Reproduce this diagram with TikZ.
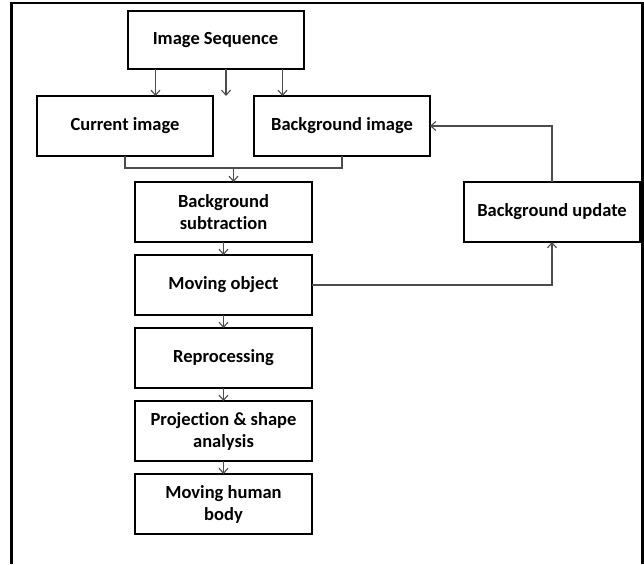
\documentclass[tikz,border=0pt]{standalone}
\usepackage{fontspec}
\setmainfont{Carlito}[Ligatures=NoCommon]
\usetikzlibrary{arrows.meta, positioning, calc}

\begin{document}
\begin{tikzpicture}[
  x=1pt, y=-1pt,
  blk/.style={draw, line width=2pt, minimum width=176pt, minimum height=60pt, align=center, inner sep=2pt, outer sep=0pt, font=\fontsize{18.5}{22}\selectfont\bfseries},
  arr/.style={draw=black!70, line width=1.1pt, -{Straight Barb[length=5pt, width=9pt]}},
  lin/.style={draw=black!70, line width=1.1pt},
  frm/.style={draw, line width=2.4pt}
]
  \useasboundingbox (0,0) rectangle (644,564);
  \draw[frm] (11.5,564) -- (11.5,3) -- (642.5,3) -- (642.5,564);

  \node[blk, minimum height=58pt] (seq) at (215.5,40) {Image Sequence};
  \node[blk] (cur) at (125,126) {Current image};
  \node[blk, right=41pt of cur] (bgimg) {Background image};
  \node[blk, minimum width=177pt] (sub) at (223.5,212) {Background\\subtraction};
  \node[blk, minimum width=177pt, below=13pt of sub] (mov) {Moving object};
  \node[blk, minimum width=177pt, below=13pt of mov] (rep) {Reprocessing};
  \node[blk, minimum width=177pt, below=13pt of rep] (proj) {Projection \& shape\\analysis};
  \node[blk, minimum width=177pt, below=13pt of proj] (body) {Moving human\\body};
  \node[blk, right=152pt of sub] (upd) {Background update};

  \coordinate (gap) at ([xshift=10.5pt]seq.south |- cur.north);
  \draw[arr] ([xshift=-60pt]seq.south) -- ([xshift=-60pt]seq.south |- cur.north);
  \draw[arr] ([xshift=10.5pt]seq.south) -- (gap);
  \draw[arr] ([xshift=67pt]seq.south) -- ([xshift=67pt]seq.south |- bgimg.north);

  \draw[lin] (cur.south) -- ++(0,12) -| (bgimg.south);
  \coordinate (merge) at ($(cur.south)!0.5!(bgimg.south) + (0,12)$);
  \draw[arr] (merge) -- (merge |- sub.north);

  \draw[arr] (sub) -- (mov);
  \draw[arr] (mov) -- (rep);
  \draw[arr] (rep) -- (proj);
  \draw[arr] (proj) -- (body);

  \draw[arr] (mov.east) -| (upd.south);
  \draw[arr] (upd.north) |- (bgimg.east);
\end{tikzpicture}
\end{document}
